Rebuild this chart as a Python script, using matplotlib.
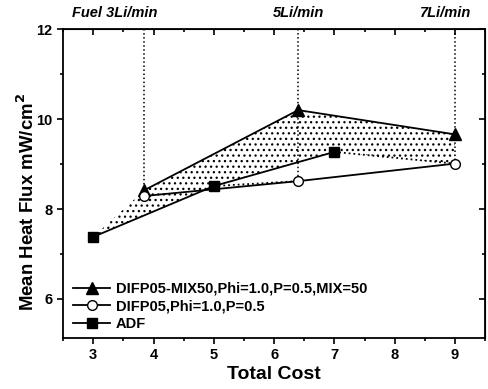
import numpy as np
import matplotlib.pyplot as plt
from matplotlib.ticker import MultipleLocator

# flow settings along the top
flow_x = [3.85, 6.4, 9.0]
flow_labels = ["Fuel 3Li/min", "5Li/min", "7Li/min"]
flow_label_x = [3.36, 6.4, 8.85]

# DIFP05-MIX50
mix_x = [3.85, 6.4, 9.0]
mix_y = [8.42, 10.2, 9.66]

# DIFP05
difp_x = [3.85, 6.4, 9.0]
difp_y = [8.29, 8.62, 9.01]

# ADF
adf_x = [3.0, 5.0, 7.0]
adf_y = [7.38, 8.51, 9.27]

plt.rcParams['font.family'] = ['Liberation Sans', 'DejaVu Sans']
plt.rcParams['font.weight'] = 'bold'
plt.rcParams['hatch.linewidth'] = 0.9

fig = plt.figure(figsize=(4.89, 3.89), dpi=100)
ax = fig.add_axes([0.129, 0.131, 0.863, 0.794])

# dotted band between the upper and lower curves
band_x = [adf_x[0]] + mix_x + [difp_x[2], adf_x[2], adf_x[1]]
band_y = [adf_y[0]] + mix_y + [difp_y[2], adf_y[2], adf_y[1]]
ax.fill(band_x, band_y, facecolor='none', edgecolor='black', hatch='...',
        linewidth=0)

# vertical guide lines from the top down to each flow setting
ax.plot([flow_x[0], flow_x[0]], [12, mix_y[0]], ':', color='black', lw=1.1)
ax.plot([flow_x[1], flow_x[1]], [12, difp_y[1]], ':', color='black', lw=1.1)
ax.plot([flow_x[2], flow_x[2]], [12, difp_y[2]], ':', color='black', lw=1.1)

# dotted links between series
ax.plot([adf_x[1], difp_x[1]], [adf_y[1], difp_y[1]], ':', color='black', lw=1.3)
ax.plot([adf_x[2], difp_x[2]], [adf_y[2], difp_y[2]], ':', color='black', lw=1.3)

ax.plot(mix_x, mix_y, '-^', color='black', lw=1.3, ms=8,
        label="DIFP05-MIX50,Phi=1.0,P=0.5,MIX=50")
ax.plot(difp_x, difp_y, '-o', color='black', mfc='white', lw=1.3, ms=7,
        label="DIFP05,Phi=1.0,P=0.5")
ax.plot(adf_x, adf_y, '-s', color='black', lw=1.3, ms=7, label="ADF")

for x, s in zip(flow_label_x, flow_labels):
    ax.text(x, 12.2, s, ha='center', va='bottom', fontsize=10.5,
            fontweight='bold', fontstyle='italic')

ax.set_xlim(2.5, 9.5)
ax.set_ylim(5.13, 12)
ax.xaxis.set_major_locator(MultipleLocator(1))
ax.xaxis.set_minor_locator(MultipleLocator(0.5))
ax.yaxis.set_major_locator(MultipleLocator(2))
ax.yaxis.set_minor_locator(MultipleLocator(1))
ax.tick_params(which='both', direction='out', labelsize=10.5, width=1.2)
ax.tick_params(which='major', length=4)
ax.tick_params(which='minor', length=2.5)
for side in ax.spines.values():
    side.set_linewidth(1.3)

# inward ticks on the top and right edges
top = ax.secondary_xaxis('top')
top.xaxis.set_major_locator(MultipleLocator(1))
top.xaxis.set_minor_locator(MultipleLocator(0.5))
top.tick_params(which='both', direction='in', labeltop=False, width=1.2)
top.tick_params(which='major', length=4)
top.tick_params(which='minor', length=2.5)
right = ax.secondary_yaxis('right')
right.yaxis.set_major_locator(MultipleLocator(2))
right.yaxis.set_minor_locator(MultipleLocator(1))
right.tick_params(which='both', direction='in', labelright=False, width=1.2)
right.tick_params(which='major', length=4)
right.tick_params(which='minor', length=2.5)

ax.set_xlabel("Total Cost", fontsize=14, fontweight='bold', labelpad=2.5)
ax.set_ylabel("Mean Heat Flux mW/cm$^\\mathbf{2}$", fontsize=13.4,
              fontweight='bold')
ax.yaxis.set_label_coords(-0.06, 0.44)

ax.legend(loc='lower left', frameon=False, fontsize=10.5, handlelength=2.5,
          handletextpad=0.4, labelspacing=0.25, borderaxespad=0.3,
          bbox_to_anchor=(0.0, -0.01))

fig.savefig("out.png", dpi=100)
